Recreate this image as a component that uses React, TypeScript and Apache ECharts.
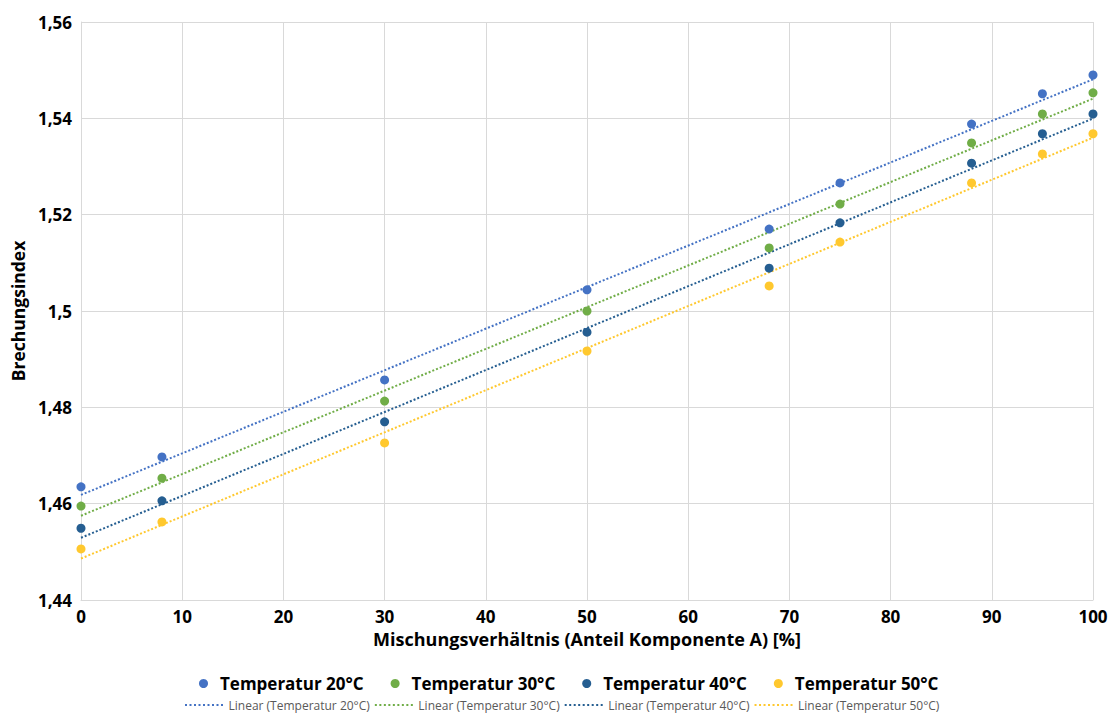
import React, { useEffect, useRef } from "react";
import * as echarts from "echarts";

const xValues = [0, 8, 30, 50, 68, 75, 88, 95, 100];
const seriesNames = ["Temperatur 20°C", "Temperatur 30°C", "Temperatur 40°C", "Temperatur 50°C"];
const t20 = [1.4635, 1.4697, 1.4857, 1.5044, 1.517, 1.5266, 1.5388, 1.5451, 1.549];
const t30 = [1.4595, 1.4653, 1.4813, 1.5, 1.5131, 1.5222, 1.5349, 1.5409, 1.5453];
const t40 = [1.4549, 1.4606, 1.477, 1.4956, 1.5089, 1.5183, 1.5307, 1.5368, 1.5409];
const t50 = [1.4506, 1.4562, 1.4726, 1.4917, 1.5052, 1.5143, 1.5266, 1.5326, 1.5368];
const colors = ["#4472C4", "#70AD47", "#255E91", "#FFC82E"];
const xTicks = { min: 0, max: 100, interval: 10 };
const yTicks = { min: 1.44, max: 1.56, interval: 0.02 };

const allValues = [t20, t30, t40, t50];

function linearFit(xs: number[], ys: number[]) {
  const n = xs.length;
  const mx = xs.reduce((a, b) => a + b, 0) / n;
  const my = ys.reduce((a, b) => a + b, 0) / n;
  let sxy = 0, sxx = 0;
  for (let i = 0; i < n; i++) {
    sxy += (xs[i] - mx) * (ys[i] - my);
    sxx += (xs[i] - mx) * (xs[i] - mx);
  }
  const b = sxy / sxx;
  const a = my - b * mx;
  return (x: number) => a + b * x;
}

const FONT = "'Open Sans', 'Noto Sans', sans-serif";

// dotted legend icon (9 small squares)
let dottedIcon = "path://";
for (let i = 0; i < 9; i++) dottedIcon += `M${i * 9},0h4v4h-4z`;

export default function App() {
  const ref = useRef<HTMLDivElement>(null);
  useEffect(() => {
    if (!ref.current) return;
    const chart = echarts.init(ref.current, null, { renderer: "svg" });
    const scatterSeries = seriesNames.map((name, i) => ({
      name,
      type: "scatter",
      symbol: "circle",
      symbolSize: 9,
      itemStyle: { color: colors[i], opacity: 1 },
      data: xValues.map((x, j) => [x, allValues[i][j]]),
      z: 3,
    }));
    const lineNames = seriesNames.map((n) => `Linear (${n})`);
    const lineSeries = seriesNames.map((name, i) => {
      const f = linearFit(xValues, allValues[i]);
      return {
        name: lineNames[i],
        type: "line",
        symbol: "none",
        showSymbol: false,
        lineStyle: { color: colors[i], width: 2, type: [2, 2] },
        itemStyle: { color: colors[i] },
        data: [[xTicks.min, f(xTicks.min)], [xTicks.max, f(xTicks.max)]],
        z: 2,
      };
    });
    chart.setOption({
      animation: false,
      textStyle: { fontFamily: FONT },
      grid: { left: 81, right: 27, top: 22, bottom: 113, outerBoundsMode: "none" },
      legend: [
        {
          data: seriesNames,
          top: 675,
          left: 199,
          padding: 0,
          icon: "circle",
          itemWidth: 9,
          itemHeight: 9,
          itemGap: 27,
          textStyle: {
            fontSize: 17,
            fontWeight: "bold",
            color: "#000",
            fontFamily: FONT,
            padding: [0, 0, 0, 7],
          },
        },
        {
          data: lineNames.map((n) => ({ name: n, icon: dottedIcon })),
          top: 699,
          left: 185,
          padding: 0,
          itemWidth: 39,
          itemHeight: 2,
          itemGap: 5,
          textStyle: { fontSize: 12, color: "#595959", fontFamily: FONT },
        },
      ],
      xAxis: {
        type: "value",
        min: xTicks.min,
        max: xTicks.max,
        interval: xTicks.interval,
        name: "Mischungsverhältnis (Anteil Komponente A) [%]",
        nameLocation: "middle",
        nameGap: 30,
        nameTextStyle: { fontSize: 18, fontWeight: "bold", color: "#000", fontFamily: FONT },
        axisLine: { show: true, lineStyle: { color: "#D9D9D9", width: 1 } },
        axisTick: { show: false },
        axisLabel: { fontSize: 17, fontWeight: "bold", color: "#000", margin: 8, fontFamily: FONT },
        splitLine: { show: true, lineStyle: { color: "#D9D9D9", width: 1 } },
      },
      yAxis: {
        type: "value",
        min: yTicks.min,
        max: yTicks.max,
        interval: yTicks.interval,
        name: "Brechungsindex",
        nameLocation: "middle",
        nameGap: 53,
        nameTextStyle: { fontSize: 17.5, fontWeight: "bold", color: "#000", fontFamily: FONT },
        axisLine: { show: true, lineStyle: { color: "#D9D9D9", width: 1 } },
        axisTick: { show: false },
        axisLabel: {
          fontSize: 17,
          fontWeight: "bold",
          color: "#000",
          margin: 9,
          fontFamily: FONT,
          formatter: (v: number) => String(Number(v.toFixed(2))).replace(".", ","),
        },
        splitLine: { show: true, lineStyle: { color: "#D9D9D9", width: 1 } },
      },
      series: [...lineSeries, ...scatterSeries],
    });
    return () => chart.dispose();
  }, []);
  return <div ref={ref} style={{ width: 1120, height: 713, position: "absolute", left: 0, top: 0 }} />;
}
